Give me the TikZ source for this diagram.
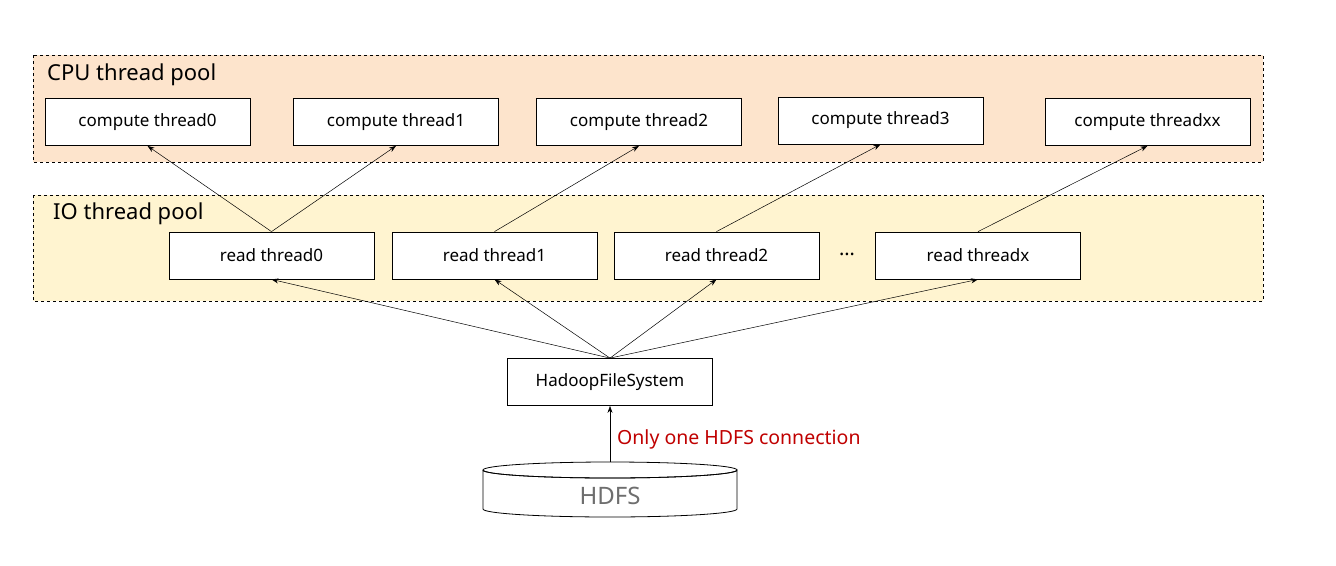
\documentclass[tikz,border=0pt]{standalone}
\usepackage{fontspec}
\setmainfont{Noto Sans}
\usetikzlibrary{arrows.meta}
\begin{document}
\begin{tikzpicture}[x=1pt,y=-1pt,
  pool/.style={draw,dashed,line width=0.8pt},
  box/.style={draw,line width=0.8pt,fill=white,minimum width=205pt,minimum height=47pt,font=\fontsize{17}{20}\selectfont,inner sep=0pt},
  arr/.style={-{Stealth[length=7pt,width=5pt]},line width=0.5pt}]
\useasboundingbox (0,0) rectangle (1336,565);
\fill[white] (0,0) rectangle (1336,565);
\draw[pool,fill={rgb,255:red,253;green,228;blue,204}] (33,55) rectangle (1263,162);
\draw[pool,fill={rgb,255:red,255;green,244;blue,208}] (33,195) rectangle (1263,301);
\node[anchor=west,font=\fontsize{22}{26}\selectfont,inner sep=0pt] (cpu) at (47,75) {CPU thread pool};
\node[anchor=west,font=\fontsize{22}{26}\selectfont,inner sep=0pt] (io) at (53,214) {IO thread pool};
\node[box] (c0) at (147.5,122) {compute thread0};
\node[box] (c1) at (396,122) {compute thread1};
\node[box] (c2) at (639,122) {compute thread2};
\node[box] (c3) at (880.5,120.5) {compute thread3};
\node[box] (cx) at (1147.5,122) {compute threadxx};
\node[box] (r0) at (271.5,255.5) {read thread0};
\node[box] (r1) at (494.5,255.5) {read thread1};
\node[box] (r2) at (716.5,255.5) {read thread2};
\node[box] (rx) at (978,255.5) {read threadx};
\node[font=\fontsize{20}{22}\selectfont] (dots) at (847,254) {…};
\node[box] (hfs) at (610,382) {HadoopFileSystem};
\filldraw[line width=0.8pt,fill=white] (483,470) -- (483,509) arc[start angle=180,end angle=360,x radius=127,y radius=-8] -- (737,470) arc[start angle=0,end angle=360,x radius=127,y radius=8];
\draw[line width=0.8pt] (483,470) arc[start angle=180,end angle=360,x radius=127,y radius=-8];
\coordinate (hdfs) at (610,462);
\node[text={rgb,255:red,110;green,110;blue,110},font=\fontsize{24}{28}\selectfont] (hl) at (610,496) {HDFS};
\draw[arr] (r0.north) -- (c0.south);
\draw[arr] (r0.north) -- (c1.south);
\draw[arr] (r1.north) -- (c2.south);
\draw[arr] (r2.north) -- (c3.south);
\draw[arr] (rx.north) -- (cx.south);
\draw[arr] (hfs.north) -- (r0.south);
\draw[arr] (hfs.north) -- (r1.south);
\draw[arr] (hfs.north) -- (r2.south);
\draw[arr] (hfs.north) -- (rx.south);
\draw[arr] (hdfs) -- (hfs.south);
\node[anchor=west,inner sep=0pt,text={rgb,255:red,192;green,0;blue,0},font=\fontsize{19.5}{22}\selectfont] (lbl) at (617,439) {Only one HDFS connection};
\end{tikzpicture}
\end{document}
